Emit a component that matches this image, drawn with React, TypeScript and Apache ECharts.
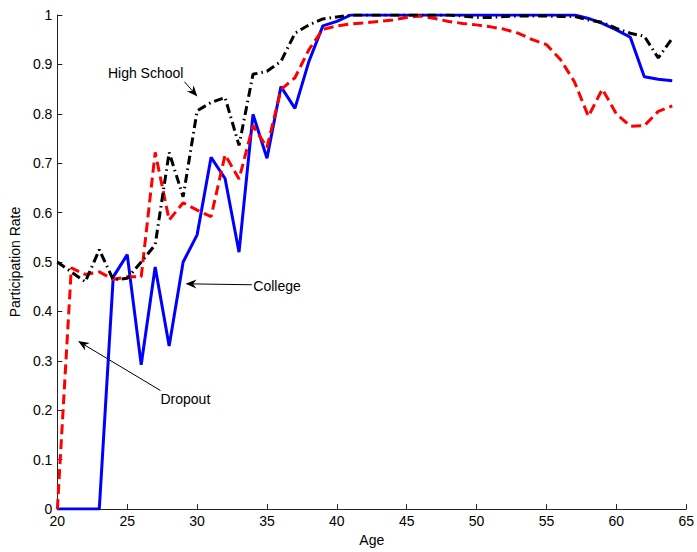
import React, { useEffect, useRef } from "react";
import * as echarts from "echarts";

const ages: number[] = [];
for (let a = 20; a <= 64; a++) ages.push(a);

const college = [
  0, 0, 0, 0, 0.47, 0.515, 0.292, 0.49, 0.33, 0.5,
  0.555, 0.712, 0.669, 0.52, 0.799, 0.71, 0.855, 0.811, 0.906, 0.978,
  0.987, 1, 1, 1, 1, 1, 1, 1, 1, 1,
  1, 1, 1, 1, 1, 1, 1, 1, 0.993, 0.983,
  0.97, 0.955, 0.875, 0.87, 0.867,
];

const dropout = [
  0, 0.488, 0.475, 0.48, 0.465, 0.47, 0.47, 0.722, 0.585, 0.62,
  0.605, 0.592, 0.717, 0.668, 0.776, 0.732, 0.849, 0.873, 0.93, 0.971,
  0.978, 0.982, 0.984, 0.987, 0.99, 0.995, 0.998, 0.993, 0.987, 0.983,
  0.98, 0.976, 0.971, 0.963, 0.95, 0.94, 0.91, 0.865, 0.795, 0.85,
  0.8, 0.775, 0.776, 0.805, 0.816,
];

const highSchool = [
  0.5, 0.48, 0.46, 0.525, 0.464, 0.467, 0.5, 0.535, 0.722, 0.632,
  0.806, 0.823, 0.833, 0.736, 0.88, 0.886, 0.906, 0.963, 0.98, 0.992,
  0.996, 1, 1, 1, 1, 1, 1, 1, 1, 0.998,
  0.995, 0.995, 0.997, 0.998, 0.998, 0.998, 0.997, 0.997, 0.99, 0.985,
  0.973, 0.963, 0.957, 0.913, 0.953,
];

// annotation anchors in data coordinates
const annotations = [
  { label: "High School", align: "right", text: [29.02, 0.883], tail: [29.09, 0.865], tip: [30.02, 0.835] },
  { label: "College", align: "left", text: [34.02, 0.451], tail: [33.92, 0.454], tip: [29.17, 0.456] },
  { label: "Dropout", align: "left", text: [27.38, 0.222], tail: [27.38, 0.24], tip: [21.48, 0.34] },
];

const FONT = "'Liberation Sans', Arial, Helvetica, sans-serif";

export default function App() {
  const ref = useRef<HTMLDivElement>(null);
  useEffect(() => {
    if (!ref.current) return;
    const chart = echarts.init(ref.current, null, { renderer: "svg" });
    const pairs = (vals: number[]) => ages.map((a, i) => [a, vals[i]]);
    chart.setOption({
      animation: false,
      backgroundColor: "#fff",
      grid: { left: 56, right: 10, top: 15, bottom: 39, containLabel: false },
      xAxis: {
        type: "value",
        min: 20,
        max: 65,
        interval: 5,
        name: "Age",
        nameLocation: "middle",
        nameGap: 21,
        nameTextStyle: { color: "#000", fontSize: 14, fontFamily: FONT },
        axisLine: { lineStyle: { color: "#222", width: 1 } },
        axisTick: { inside: true, length: 5, lineStyle: { color: "#222" } },
        axisLabel: { color: "#000", fontSize: 14, fontFamily: FONT, margin: 5 },
        splitLine: { show: false },
      },
      yAxis: {
        type: "value",
        min: 0,
        max: 1,
        interval: 0.1,
        name: "Participation Rate",
        nameLocation: "middle",
        nameGap: 30,
        nameTextStyle: { color: "#000", fontSize: 14, fontFamily: FONT },
        axisLine: { show: true, lineStyle: { color: "#222", width: 1 } },
        axisTick: { show: true, inside: true, length: 5, lineStyle: { color: "#222" } },
        axisLabel: {
          color: "#000",
          fontSize: 14,
          fontFamily: FONT,
          margin: 5,
          formatter: (v: number) => String(Math.round(v * 10) / 10),
        },
        splitLine: { show: false },
      },
      series: [
        {
          name: "College",
          type: "line",
          data: pairs(college),
          symbol: "none",
          lineStyle: { color: "#0000ff", width: 3 },
          z: 2,
        },
        {
          name: "Dropout",
          type: "line",
          data: pairs(dropout),
          symbol: "none",
          lineStyle: { color: "#ff0000", width: 3, type: [10, 5] },
          z: 3,
        },
        {
          name: "High School",
          type: "line",
          data: pairs(highSchool),
          symbol: "none",
          lineStyle: { color: "#000000", width: 3, type: [9, 4, 1.5, 4] },
          z: 4,
        },
      ],
    });

    const px = (p: number[]) => chart.convertToPixel({ gridIndex: 0 }, p) as number[];
    const graphics: any[] = [];
    annotations.forEach((an) => {
      const t = px(an.text);
      const s = px(an.tail);
      const k = px(an.tip);
      const dx = k[0] - s[0];
      const dy = k[1] - s[1];
      const len = Math.sqrt(dx * dx + dy * dy);
      const ux = dx / len;
      const uy = dy / len;
      const nx = -uy;
      const ny = ux;
      const L = 11;
      const W = 4.5;
      const N = 3.5;
      graphics.push({
        type: "line",
        shape: { x1: s[0], y1: s[1], x2: k[0] - ux * 6, y2: k[1] - uy * 6 },
        style: { stroke: "#000", lineWidth: 1 },
        z: 10,
      });
      graphics.push({
        type: "polygon",
        shape: {
          points: [
            [k[0], k[1]],
            [k[0] - L * ux + W * nx, k[1] - L * uy + W * ny],
            [k[0] - (L - N) * ux, k[1] - (L - N) * uy],
            [k[0] - L * ux - W * nx, k[1] - L * uy - W * ny],
          ],
        },
        style: { fill: "#000" },
        z: 10,
      });
      graphics.push({
        type: "text",
        x: t[0],
        y: t[1],
        style: {
          text: an.label,
          fill: "#000",
          fontSize: 14,
          fontFamily: FONT,
          align: an.align,
          verticalAlign: "middle",
        },
        z: 10,
      });
    });
    chart.setOption({ graphic: graphics });

    return () => chart.dispose();
  }, []);

  return (
    <div
      ref={ref}
      style={{ position: "fixed", left: 0, top: 0, width: 697, height: 552, background: "#fff" }}
    />
  );
}
